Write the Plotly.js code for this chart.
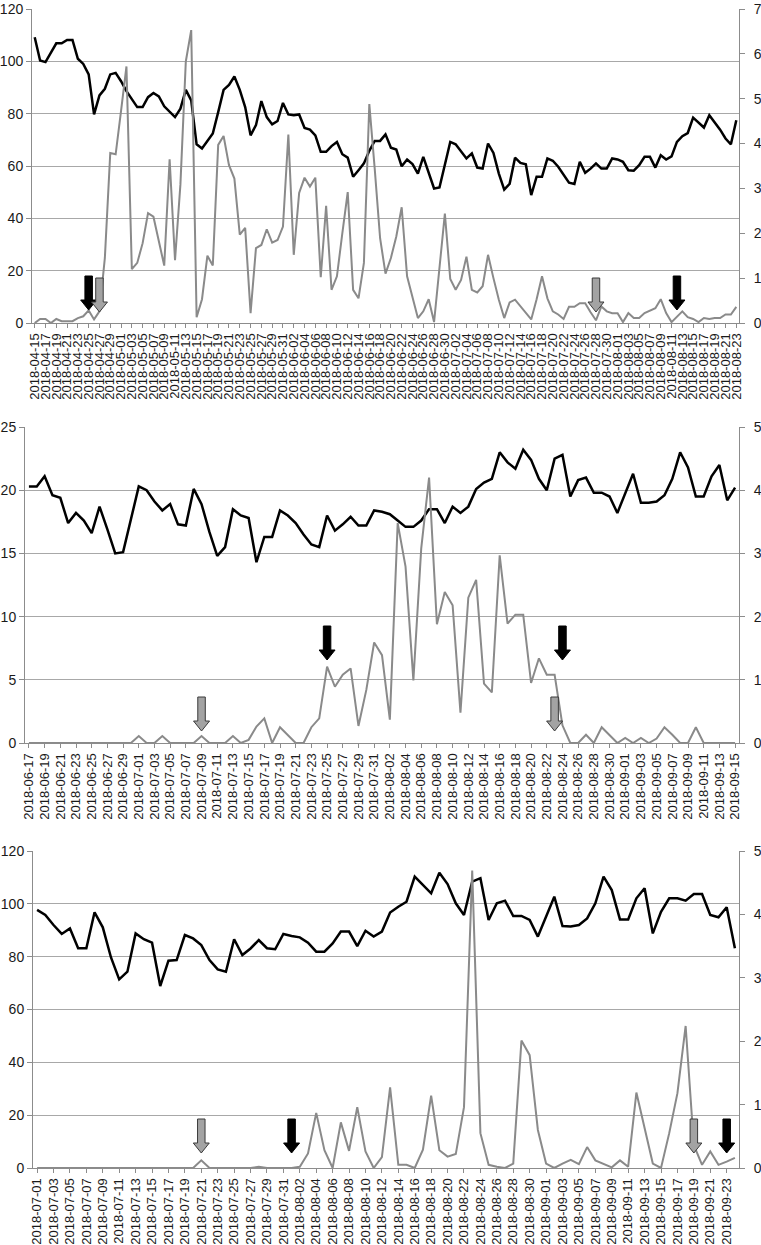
<!DOCTYPE html>
<html>
<head>
<meta charset="utf-8">
<script src="https://cdn.plot.ly/plotly-3.0.1.min.js"></script>
<style>
  html, body { margin: 0; padding: 0; background: #fff; }
</style>
</head>
<body>
<div id="chart" style="width:761px;height:1245px"></div>
<script>
// one category per day
function dayRange(start, n) {
    var out = [];
    var d = new Date(start + 'T00:00:00Z');
    for (var i = 0; i < n; i++) {
        out.push(d.toISOString().slice(0, 10));
        d.setUTCDate(d.getUTCDate() + 1);
    }
    return out;
}

// ---- panel 1: 2018-04-15 .. 2018-08-23 ----
var datesA = dayRange('2018-04-15', 131);
var blackA = [109.2,100.3,99.7,103.5,106.9,106.9,108.2,108.2,101.0,99.0,
    95.0,79.7,87.0,89.5,95.0,95.6,92.4,88.6,85.3,82.5,
    82.5,86.3,87.9,86.6,82.8,80.6,78.7,81.9,89.1,85.1,
    68.3,66.7,69.5,72.4,80.6,89.1,91.0,94.2,89.1,82.5,
    71.7,75.6,84.8,78.7,75.9,77.2,84.1,79.7,79.4,79.7,
    74.5,73.9,71.7,65.4,65.4,67.6,69.2,64.5,63.2,55.9,
    58.4,61.0,65.8,69.6,69.6,72.1,67.0,66.3,59.9,62.5,
    60.7,57.1,63.5,57.8,51.4,51.8,61.0,69.2,68.3,65.4,
    62.9,64.8,59.4,59.0,68.6,65.0,57.1,51.0,53.2,63.2,
    61.2,60.7,48.9,55.9,55.9,62.9,62.0,59.7,56.5,53.6,
    53.1,61.6,57.4,59.0,61.0,59.0,59.0,62.9,62.5,61.6,
    58.4,58.2,60.3,63.5,63.5,59.4,64.1,62.5,63.7,69.2,
    71.4,72.6,78.5,76.4,74.7,79.4,76.8,73.9,70.5,68.3,
    77.5];
var grayA = [0,0.09,0.09,0,0.09,0.04,0.04,0.04,0.11,0.15,
    0.28,0.08,0.26,1.45,3.79,3.76,4.73,5.72,1.2,1.34,
    1.78,2.45,2.37,1.85,1.28,3.65,1.4,3.09,5.83,6.53,
    0.13,0.53,1.5,1.28,3.97,4.17,3.52,3.22,1.97,2.12,
    0.22,1.67,1.74,2.09,1.79,1.85,2.15,4.2,1.52,2.9,
    3.24,3.04,3.24,1.02,2.61,0.74,1.04,2.0,2.92,0.74,
    0.55,1.34,4.88,3.44,1.89,1.1,1.45,1.93,2.58,1.04,
    0.55,0.11,0.26,0.53,0.02,1.18,2.44,0.98,0.74,0.96,
    1.48,0.74,0.68,0.82,1.52,1.0,0.52,0.11,0.46,0.52,
    0.38,0.22,0.08,0.53,1.04,0.55,0.26,0.19,0.09,0.36,
    0.36,0.44,0.44,0.24,0.06,0.37,0.26,0.22,0.22,0.02,
    0.22,0.11,0.11,0.22,0.28,0.33,0.53,0.22,0.02,0.15,
    0.26,0.13,0.09,0.02,0.11,0.09,0.11,0.11,0.19,0.19,
    0.36];
var arrowsA = [['2018-04-25', 'black'], ['2018-04-27', 'gray'],
    ['2018-07-28', 'gray'], ['2018-08-12', 'black']];

// ---- panel 2: 2018-06-17 .. 2018-09-15 ----
var datesB = dayRange('2018-06-17', 91);
var blackB = [20.3,20.3,21.1,19.6,19.4,17.4,18.2,17.6,16.6,18.7,
    16.9,15.0,15.1,17.6,20.3,20.0,19.1,18.4,18.9,17.3,
    17.2,20.1,18.9,16.7,14.8,15.5,18.5,18.0,17.8,14.3,
    16.3,16.3,18.4,18.0,17.4,16.5,15.7,15.5,18.0,16.8,
    17.3,17.9,17.2,17.2,18.4,18.3,18.1,17.6,17.1,17.1,
    17.6,18.5,18.5,17.4,18.7,18.2,18.7,20.1,20.6,20.9,
    23.0,22.2,21.7,23.2,22.4,20.9,20.0,22.5,22.8,19.5,
    20.8,21.0,19.8,19.8,19.5,18.2,19.8,21.3,19.0,19.0,
    19.1,19.6,20.9,23.0,21.8,19.5,19.5,21.1,22.0,19.2,
    20.2];
var grayB = [0,0,0,0,0,0,0,0,0,0,
    0,0,0,0,0.11,0,0,0.11,0,0,
    0,0,0.11,0,0,0,0.11,0,0.05,0.26,
    0.39,0,0.25,0.13,0,0,0.25,0.39,1.21,0.89,
    1.08,1.18,0.27,0.84,1.59,1.39,0.37,3.48,2.79,0.99,
    3.08,4.2,1.88,2.39,2.18,0.48,2.3,2.58,0.94,0.8,
    2.97,1.89,2.03,2.03,0.95,1.34,1.08,1.08,0.28,0,
    0,0.13,0,0.25,0.13,0,0.08,0,0.08,0,
    0.07,0.25,0.13,0,0,0.25,0,0,0,0,
    0];
var arrowsB = [['2018-07-09', 'gray'], ['2018-07-25', 'black'],
    ['2018-08-23', 'gray'], ['2018-08-24', 'black']];

// ---- panel 3: 2018-07-01 .. 2018-09-24 ----
var datesC = dayRange('2018-07-01', 86);
var blackC = [97.7,95.8,92.0,88.6,90.7,83.2,83.2,96.8,91.1,79.7,
    71.4,74.3,88.8,86.6,85.3,68.9,78.5,78.7,88.2,86.9,
    84.4,78.7,75.2,74.3,86.6,80.6,83.1,86.3,83.2,82.8,
    88.6,87.8,87.3,85.3,81.9,81.9,85.0,89.5,89.5,84.0,
    89.8,87.6,89.5,96.7,98.9,100.8,110.3,107.1,104.0,111.8,
    107.5,100.2,95.8,108.4,109.7,93.9,100.2,101.2,95.4,95.4,
    93.9,87.6,95.1,102.7,91.6,91.4,92.0,94.5,100.2,110.3,
    105.2,94.1,94.1,102.1,105.9,88.8,97.0,102.1,102.1,101.2,
    103.7,103.7,95.8,94.9,98.7,83.2];
var grayC = [0,0,0,0,0,0,0,0,0,0,
    0,0,0,0,0,0,0,0,0,0,
    0.12,0,0,0,0,0,0,0.02,0,0,
    0,0,0.02,0.23,0.87,0.28,0,0.72,0.27,0.96,
    0.26,0,0.17,1.27,0.05,0.05,0,0.29,1.14,0.28,
    0.18,0.22,0.96,4.69,0.55,0.05,0.02,0,0.07,2.01,
    1.78,0.6,0.07,0,0.07,0.13,0.06,0.33,0.12,0.07,
    0.01,0.12,0.02,1.19,0.63,0.07,0,0.55,1.18,2.24,
    0.36,0.05,0.26,0.05,0.1,0.16];
var arrowsC = [['2018-07-21', 'gray'], ['2018-08-01', 'black'],
    ['2018-09-19', 'gray'], ['2018-09-23', 'black']];

var FONT = '"Liberation Sans", Arial, Helvetica, sans-serif';
var TEXT = '#1a1a1a';
var AXIS = '#8c8c8c';
var GRID = '#a8a8a8';
var W = 761, H = 1245;

function xAxis(dates, left, anchor) {
    var ticks = dates.filter(function (d, i) { return i % 2 === 0; });
    return {
        type: 'category', domain: [left / W, 739 / W], anchor: anchor,
        range: [-0.5, dates.length - 0.5],
        tickmode: 'array', tickvals: ticks, ticktext: ticks,
        tickangle: -90, ticks: 'outside', ticklen: 4, tickcolor: AXIS,
        tickfont: {family: FONT, size: 13, color: TEXT},
        showgrid: false, showline: true, linecolor: AXIS, linewidth: 1,
        zeroline: false, fixedrange: true
    };
}

function leftAxis(top, bottom, max, step, anchor) {
    return {
        domain: [1 - bottom / H, 1 - top / H], anchor: anchor,
        range: [0, max], tick0: 0, dtick: step,
        ticks: 'outside', ticklen: 5, tickcolor: AXIS,
        tickfont: {family: FONT, size: 14, color: TEXT},
        showgrid: true, gridcolor: GRID, gridwidth: 1,
        showline: true, linecolor: AXIS, linewidth: 1,
        zeroline: false, fixedrange: true
    };
}

function rightAxis(over, max, anchor) {
    return {
        overlaying: over, side: 'right', anchor: anchor,
        range: [0, max], tick0: 0, dtick: 1,
        ticks: 'outside', ticklen: 5, tickcolor: AXIS,
        ticklabelstandoff: 6,
        tickfont: {family: FONT, size: 14, color: TEXT},
        showgrid: false, showline: true, linecolor: AXIS, linewidth: 1,
        zeroline: false, fixedrange: true
    };
}

function line(x, y, xa, ya, color, width) {
    return {
        x: x, y: y, xaxis: xa, yaxis: ya, type: 'scatter', mode: 'lines',
        line: {color: color, width: width}, hoverinfo: 'skip', showlegend: false
    };
}

// block arrow pointing down, tip sitting `lift` px above the zero line
function arrowShapes(dates, list, xa, ya, lift) {
    return list.map(function (a) {
        var h = lift[a[1]];
        var p = 'M -3.75,' + (h + 34) + ' L 3.75,' + (h + 34) +
            ' L 3.75,' + (h + 10) + ' L 8,' + (h + 10) + ' L 0,' + h +
            ' L -8,' + (h + 10) + ' L -3.75,' + (h + 10) + ' Z';
        var black = a[1] === 'black';
        return {
            type: 'path', xref: xa, yref: ya,
            xsizemode: 'pixel', ysizemode: 'pixel',
            xanchor: dates.indexOf(a[0]), yanchor: 0, path: p,
            fillcolor: black ? '#000000' : '#a3a3a3',
            line: {color: black ? '#000000' : '#3a3a3a', width: 1},
            layer: 'above'
        };
    });
}

var data = [
    line(datesA, blackA, 'x', 'y', '#000000', 2.5),
    line(datesA, grayA, 'x', 'y2', '#8a8a8a', 2),
    line(datesB, blackB, 'x2', 'y3', '#000000', 2.5),
    line(datesB, grayB, 'x2', 'y4', '#8a8a8a', 2),
    line(datesC, blackC, 'x3', 'y5', '#000000', 2.5),
    line(datesC, grayC, 'x3', 'y6', '#8a8a8a', 2)
];

var shapes = []
    .concat(arrowShapes(datesA, arrowsA, 'x', 'y2', {black: 13, gray: 11}))
    .concat(arrowShapes(datesB, arrowsB, 'x2', 'y4', {black: 83, gray: 12}))
    .concat(arrowShapes(datesC, arrowsC, 'x3', 'y6', {black: 15, gray: 15}));

var layout = {
    width: W, height: H, autosize: false,
    margin: {l: 0, r: 0, t: 0, b: 0, pad: 0},
    paper_bgcolor: '#ffffff', plot_bgcolor: '#ffffff',
    showlegend: false,
    xaxis: xAxis(datesA, 32, 'y'),
    yaxis: leftAxis(9, 323, 120, 20, 'x'),
    yaxis2: rightAxis('y', 7, 'x'),
    xaxis2: xAxis(datesB, 25, 'y3'),
    yaxis3: leftAxis(427, 743, 25, 5, 'x2'),
    yaxis4: rightAxis('y3', 5, 'x2'),
    xaxis3: xAxis(datesC, 33, 'y5'),
    yaxis5: leftAxis(851, 1168, 120, 20, 'x3'),
    yaxis6: rightAxis('y5', 5, 'x3'),
    shapes: shapes
};

Plotly.newPlot('chart', data, layout, {displayModeBar: false, staticPlot: true});
</script>
</body>
</html>
